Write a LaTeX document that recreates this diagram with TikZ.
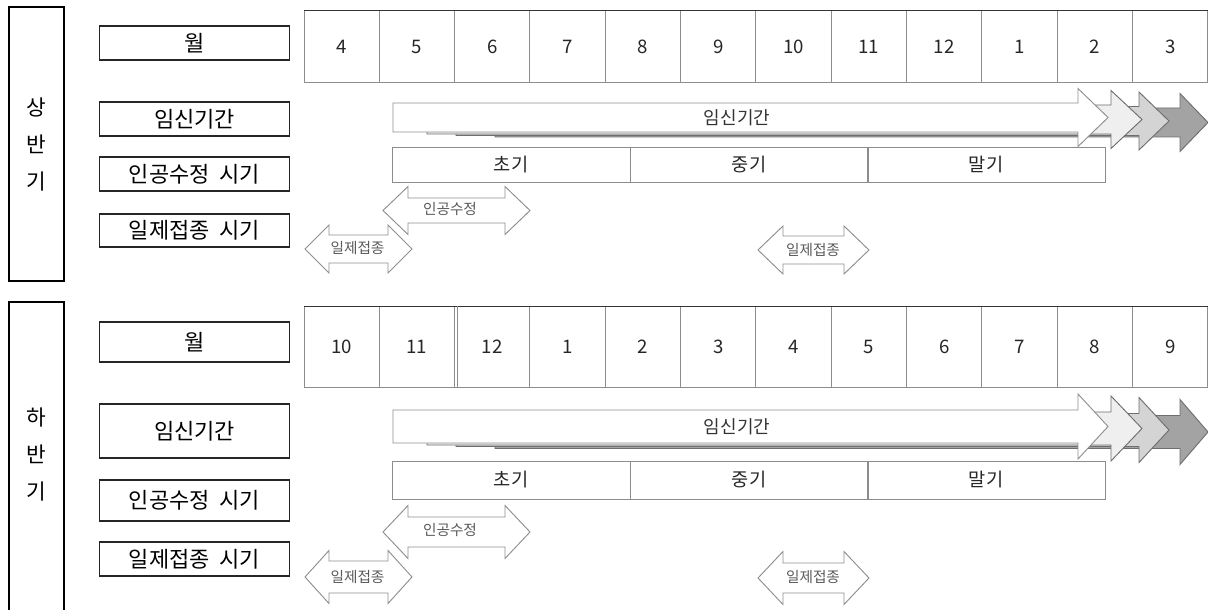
\documentclass[tikz,border=0pt]{standalone}
\usepackage{fontspec}
\setmainfont{Noto Sans CJK KR}
\definecolor{cellgray}{HTML}{8C8C8C}
\definecolor{arrgray}{HTML}{8F8F8F}
\definecolor{shline}{HTML}{6E6E6E}
\definecolor{txtgray}{HTML}{5A5A5A}
\definecolor{shlight}{HTML}{EFEFEF}
\definecolor{shmid}{HTML}{D4D4D4}
\definecolor{shdark}{HTML}{A3A3A3}
\newcommand\ArrR[8]{%
  \draw[arrline, draw=#8, fill=#7] (#1,{#3-#4}) -- ({#2-#6},{#3-#4}) -- ({#2-#6},{#3-#5}) -- (#2,#3)
    -- ({#2-#6},{#3+#5}) -- ({#2-#6},{#3+#4}) -- (#1,{#3+#4}) -- cycle;}
\newcommand\ArrLR[6]{%
  \draw[arrline, fill=white] (#1,#3) -- ({#1+#6},{#3-#5}) -- ({#1+#6},{#3-#4}) -- ({#2-#6},{#3-#4})
    -- ({#2-#6},{#3-#5}) -- (#2,#3) -- ({#2-#6},{#3+#5}) -- ({#2-#6},{#3+#4})
    -- ({#1+#6},{#3+#4}) -- ({#1+#6},{#3+#5}) -- cycle;}
\newcommand\wsp{\hspace{0.45em}}
\tikzset{
  arrline/.style={draw=arrgray, line width=0.7pt, line join=miter},
  secbox/.style={draw=black, line width=0.9pt},
  lblbox/.style={draw=black!85, line width=0.9pt, minimum width=142.5pt, inner sep=0pt,
    font=\fontsize{16.5}{18}\selectfont},
  cell/.style={draw=cellgray, line width=0.75pt, minimum width=56.5pt, inner sep=0pt,
    font=\fontsize{14}{16}\selectfont, text=black!85},
  phase/.style={draw=cellgray, line width=0.75pt, minimum width=178.5pt, inner sep=0pt,
    font=\fontsize{14}{16}\selectfont, text=black!85},
  arrtxt/.style={font=\fontsize{11}{13}\selectfont, text=txtgray, inner sep=0pt},
  bigtxt/.style={font=\fontsize{13.5}{15}\selectfont, text=black!80, inner sep=0pt},
  side/.style={font=\fontsize{16}{27.75}\selectfont, align=center, inner sep=0pt}
}
\begin{document}
\begin{tikzpicture}[x=0.75pt,y=-0.75pt]
\useasboundingbox (0,0) rectangle (1208,610);
\begin{scope}
\clip (0,0) rectangle (1208,610);
% ================= TOP (상반기) =================
\draw[secbox] (9,7) rectangle (64,281);
\node[side] (tside) at (36.5,145) {상\\반\\기};
\node[lblbox, minimum height=25.5pt] (tlmon) at (194.5,43) {월};
\node[lblbox, minimum height=25.5pt] (tlpreg) at (194.5,119) {임신기간};
\node[lblbox, minimum height=25.5pt] (tlai) at (194.5,174) {인공수정\wsp 시기};
\node[lblbox, minimum height=24.75pt] (tlvac) at (194.5,230.5) {일제접종\wsp 시기};
\foreach \m [count=\i] in {4,5,6,7,8,9,10,11,12,1,2,3}
  \node[cell, minimum height=54pt] (tm\i) at ({304+75.33*(\i-0.5)},47) {\m};
\draw[black!80, line width=0.75pt] (304,11) -- (1208,11);
% phases
\node[phase, minimum height=25.5pt] (tp1) at (511,165) {초기};
\node[phase, minimum height=25.5pt] (tp2) at (749,165) {중기};
\node[phase, minimum height=25.5pt] (tp3) at (986,165) {말기};
% pregnancy arrow
\ArrR{495}{1208}{122.5}{14.5}{29}{28}{shdark}{shline}
\ArrR{456}{1169}{121}{14.5}{29}{30}{shmid}{shline}
\ArrR{427}{1142}{119.5}{14.5}{29}{31}{shlight}{shline}
\ArrR{393}{1108}{117.5}{14.5}{29}{30}{white}{arrgray}
\node[bigtxt] (tpregtxt) at (737,118) {임신기간};
% AI / vaccination arrows
\ArrLR{383}{530}{210.5}{12.5}{24}{25}
\node[arrtxt] (taitxt) at (450,209) {인공수정};
\ArrLR{305}{412}{249}{14}{24}{24}
\node[arrtxt] (tv1txt) at (357.5,248) {일제접종};
\ArrLR{758}{869}{250}{14}{24}{25}
\node[arrtxt] (tv2txt) at (813,250) {일제접종};
% ================= BOTTOM (하반기) =================
\draw[secbox] (9,302) rectangle (64,630);
\node[side] (bside) at (36.5,455) {하\\반\\기};
\node[lblbox, minimum height=30pt] (blmon) at (194.5,342) {월};
\node[lblbox, minimum height=40.5pt] (blpreg) at (194.5,431) {임신기간};
\node[lblbox, minimum height=30.75pt] (blai) at (194.5,500.5) {인공수정\wsp 시기};
\node[lblbox, minimum height=25.5pt] (blvac) at (194.5,559) {일제접종\wsp 시기};
\foreach \m [count=\i] in {10,11,12,1,2,3,4,5,6,7,8,9}
  \node[cell, minimum height=60.75pt] (bm\i) at ({304+75.33*(\i-0.5)},346.5) {\m};
\draw[black!80, line width=0.75pt] (304,306) -- (1208,306);
\draw[cellgray, line width=0.75pt] (457.3,306) -- (457.3,387);
% phases
\node[phase, minimum height=28.5pt] (bp1) at (511,480) {초기};
\node[phase, minimum height=28.5pt] (bp2) at (749,480) {중기};
\node[phase, minimum height=28.5pt] (bp3) at (986,480) {말기};
% pregnancy arrow
\ArrR{495}{1208}{432}{16.5}{32.5}{28}{shdark}{shline}
\ArrR{456}{1169}{430}{16.5}{32.5}{30}{shmid}{shline}
\ArrR{427}{1142}{428.5}{16.5}{32.5}{31}{shlight}{shline}
\ArrR{393}{1108}{426.5}{16.5}{32.5}{30}{white}{arrgray}
\node[bigtxt] (bpregtxt) at (737,427) {임신기간};
% AI / vaccination arrows
\ArrLR{383}{530}{532}{15}{26.5}{25}
\node[arrtxt] (baitxt) at (450,530) {인공수정};
\ArrLR{305}{412}{577}{16}{26.5}{24}
\node[arrtxt] (bv1txt) at (357.5,577) {일제접종};
\ArrLR{758}{869}{578}{15}{26.5}{25}
\node[arrtxt] (bv2txt) at (813,577) {일제접종};
\end{scope}
\end{tikzpicture}
\end{document}
